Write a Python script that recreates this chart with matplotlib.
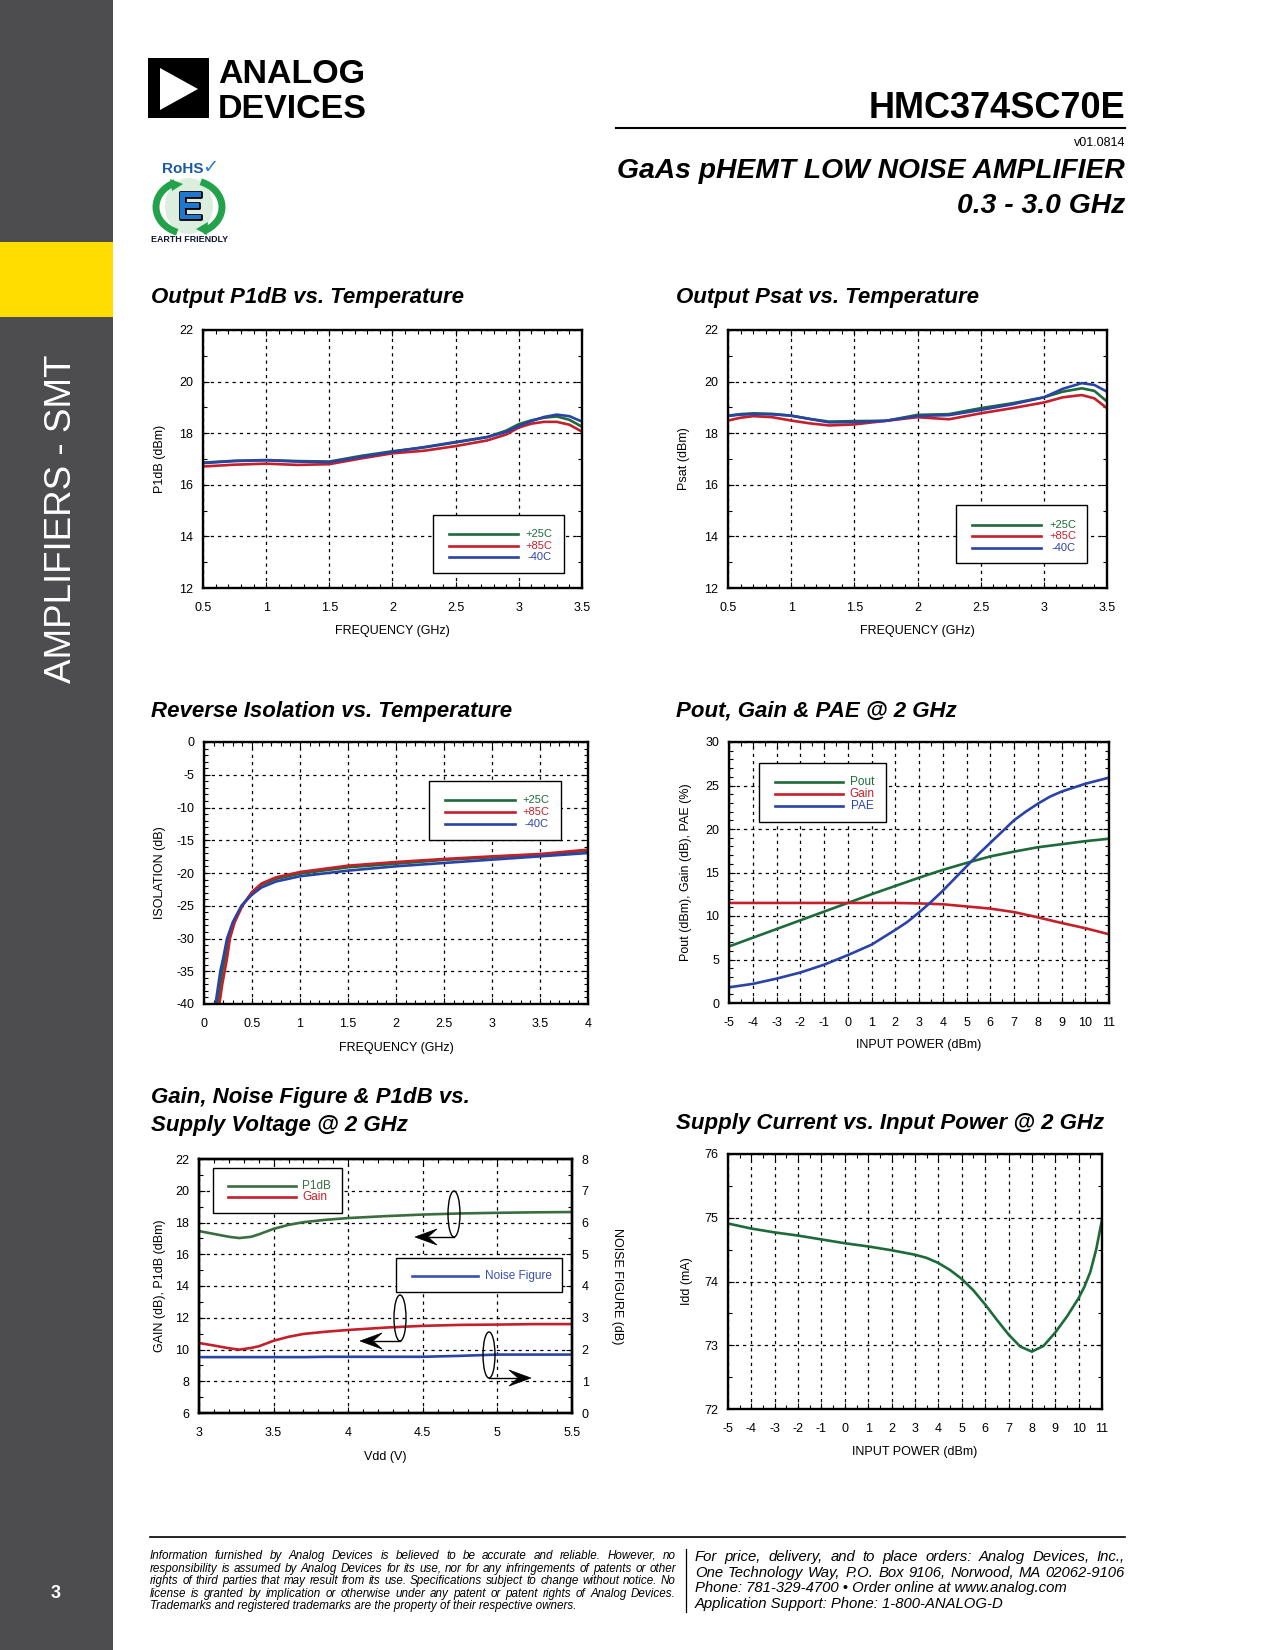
import matplotlib
matplotlib.use('Agg')
import matplotlib.pyplot as plt
import matplotlib.patheffects as pe
from matplotlib.transforms import Affine2D
from matplotlib.patches import Rectangle, Polygon, Ellipse, Arc
from matplotlib.lines import Line2D
from matplotlib.ticker import MultipleLocator, FuncFormatter

W, H, DPI = 1275, 1650, 100
plt.rcParams['font.family'] = ['Liberation Sans', 'DejaVu Sans']
plt.rcParams['axes.unicode_minus'] = False

GREEN = '#1d6b3a'
RED = '#c4202b'
BLUE = '#2a43a6'

# ---------------- data ----------------
temp_labels = ['+25C', '+85C', '-40C']

p1db_freq = [0.5, 0.75, 1.0, 1.25, 1.5, 1.75, 2.0, 2.25, 2.5, 2.75, 2.9, 3.0, 3.1, 3.2, 3.3, 3.4, 3.5]
p1db_25 = [16.86, 16.93, 16.96, 16.92, 16.90, 17.12, 17.30, 17.45, 17.64, 17.85, 18.10, 18.35, 18.50, 18.60, 18.65, 18.52, 18.25]
p1db_85 = [16.71, 16.78, 16.82, 16.77, 16.80, 17.02, 17.22, 17.32, 17.50, 17.72, 17.95, 18.22, 18.37, 18.44, 18.44, 18.33, 18.06]
p1db_m40 = [16.84, 16.92, 16.95, 16.90, 16.88, 17.08, 17.28, 17.46, 17.66, 17.85, 18.05, 18.28, 18.47, 18.63, 18.72, 18.66, 18.45]

psat_freq = [0.5, 0.6, 0.7, 0.85, 1.0, 1.15, 1.3, 1.5, 1.75, 2.0, 2.25, 2.5, 2.75, 3.0, 3.15, 3.3, 3.4, 3.5]
psat_25 = [18.68, 18.74, 18.77, 18.75, 18.68, 18.55, 18.45, 18.47, 18.48, 18.71, 18.74, 18.97, 19.16, 19.39, 19.61, 19.74, 19.64, 19.23]
psat_85 = [18.49, 18.60, 18.66, 18.62, 18.49, 18.38, 18.30, 18.34, 18.48, 18.62, 18.54, 18.77, 18.97, 19.19, 19.39, 19.48, 19.35, 18.97]
psat_m40 = [18.67, 18.72, 18.74, 18.73, 18.68, 18.55, 18.42, 18.43, 18.48, 18.67, 18.70, 18.90, 19.12, 19.39, 19.72, 19.94, 19.87, 19.61]

iso_f_25 = [0.14, 0.17, 0.19, 0.22, 0.255, 0.31, 0.395, 0.5, 0.6, 0.75, 1.0, 1.5, 2.0, 2.5, 3.0, 3.5, 4.0]
iso_25 = [-40, -37, -35, -33, -30, -27.5, -25, -23.0, -21.8, -20.9, -20.1, -19.13, -18.58, -18.0, -17.6, -17.2, -16.6]
iso_f_85 = [0.16, 0.19, 0.215, 0.24, 0.27, 0.32, 0.40, 0.5, 0.6, 0.75, 1.0, 1.5, 2.0, 2.5, 3.0, 3.5, 4.0]
iso_85 = [-40, -37, -35, -33, -30, -27.5, -25, -22.9, -21.6, -20.66, -19.85, -18.88, -18.32, -17.86, -17.46, -17.1, -16.44]
iso_f_m40 = [0.12, 0.15, 0.17, 0.20, 0.24, 0.30, 0.39, 0.5, 0.6, 0.75, 1.0, 1.5, 2.0, 2.5, 3.0, 3.5, 4.0]
iso_m40 = [-40, -37, -35, -33, -30, -27.5, -25, -23.3, -22.2, -21.3, -20.5, -19.64, -18.98, -18.47, -17.96, -17.46, -16.95]

pin = [-5, -4, -3, -2, -1, 0, 1, 2, 3, 4, 5, 6, 7, 8, 9, 10, 11]
pout = [6.5, 7.5, 8.5, 9.5, 10.5, 11.5, 12.5, 13.45, 14.4, 15.3, 16.1, 16.85, 17.4, 17.9, 18.25, 18.6, 18.88]
gain = [11.5, 11.5, 11.5, 11.5, 11.5, 11.5, 11.5, 11.5, 11.45, 11.35, 11.1, 10.85, 10.45, 9.85, 9.2, 8.6, 7.9]
pin_pae = [-5, -4, -3, -2, -1, 0, 1, 2, 2.5, 3, 3.5, 4, 4.5, 5, 5.5, 6, 6.5, 7, 7.5, 8, 8.5, 9, 10, 11]
pae = [1.8, 2.2, 2.8, 3.5, 4.4, 5.5, 6.7, 8.4, 9.3, 10.4, 11.6, 12.9, 14.3, 15.7, 17.1, 18.4, 19.7, 21.0, 22.0, 22.9, 23.7, 24.3, 25.2, 25.9]

vdd = [3.0, 3.1, 3.2, 3.27, 3.35, 3.4, 3.5, 3.6, 3.7, 3.85, 4.0, 4.25, 4.5, 4.75, 5.0, 5.25, 5.5]
p1db_v = [17.46, 17.28, 17.1, 17.02, 17.1, 17.25, 17.6, 17.85, 18.02, 18.17, 18.28, 18.4, 18.5, 18.57, 18.61, 18.64, 18.66]
gain_v = [10.41, 10.25, 10.08, 9.99, 10.1, 10.2, 10.55, 10.8, 10.98, 11.12, 11.23, 11.38, 11.49, 11.55, 11.57, 11.6, 11.6]
nf_v = [1.76, 1.76, 1.76, 1.76, 1.76, 1.76, 1.76, 1.76, 1.76, 1.77, 1.77, 1.77, 1.77, 1.8, 1.84, 1.84, 1.84]

pin_i = [-5, -4, -3, -2, -1, 0, 1, 2, 3, 3.5, 4, 4.5, 5, 5.5, 6, 6.5, 7, 7.5, 8, 8.5, 9, 9.5, 10, 10.25, 10.5, 10.75, 11]
idd = [74.91, 74.83, 74.77, 74.72, 74.66, 74.60, 74.55, 74.49, 74.42, 74.37, 74.29, 74.18, 74.04, 73.86, 73.64, 73.40, 73.17, 72.98, 72.90, 72.99,
       73.20, 73.45, 73.74, 73.92, 74.15, 74.50, 74.97]

# ---------------- page ----------------
fig = plt.figure(figsize=(W / DPI, H / DPI), dpi=DPI)
P = Affine2D().scale(1.0 / W, -1.0 / H).translate(0, 1) + fig.transFigure


def txt(x, y, s, **kw):
    return fig.text(x, y, s, transform=P, **kw)


def line(xs, ys, **kw):
    l = Line2D(xs, ys, transform=P, **kw)
    fig.add_artist(l)
    return l


def rect(x, y, w, h, **kw):
    r = Rectangle((x, y), w, h, transform=P, **kw)
    fig.add_artist(r)
    return r


def poly(pts, **kw):
    p = Polygon(pts, closed=True, transform=P, **kw)
    fig.add_artist(p)
    return p


RX = 1125  # right margin of header / footer

# sidebar
rect(0, 0, 113, H, fc='#4d4d4f', ec='none', zorder=0)
rect(0, 242, 113, 75, fc='#ffdd00', ec='none', zorder=0.5)
txt(62, 519, 'AMPLIFIERS - SMT', rotation=90, color='white', fontsize=26.5,
    ha='center', va='center')
txt(56, 1593, '3', color='white', fontsize=13, fontweight='bold', ha='center', va='center')

# ADI logo
rect(148, 58, 61, 60, fc='black', ec='none')
poly([(160, 68), (160, 110), (198, 89)], fc='white', ec='none')
txt(218, 83, 'ANALOG', fontsize=24.5, fontweight='bold', va='baseline', ha='left')
txt(218, 118, 'DEVICES', fontsize=24.5, fontweight='bold', va='baseline', ha='left')

# header text
txt(RX, 118, 'HMC374SC70E', fontsize=26, fontweight='bold', ha='right', va='baseline')
line([616, RX], [128, 128], color='black', lw=1.5)
txt(RX, 146, 'v01.0814', fontsize=9, ha='right', va='baseline')
txt(RX, 178, 'GaAs pHEMT LOW NOISE AMPLIFIER', fontsize=20.3, fontweight='bold',
    fontstyle='italic', ha='right', va='baseline')
txt(RX, 213, '0.3 - 3.0 GHz', fontsize=20.3, fontweight='bold',
    fontstyle='italic', ha='right', va='baseline')

# RoHS / earth friendly logo
e = Ellipse((189, 206), 48, 56, transform=P, fc='#dcefdf', ec='none')
fig.add_artist(e)
for t1, t2 in [(115, 240), (295, 420)]:
    a = Arc((189, 207), 66, 54, theta1=t1, theta2=t2, transform=P, color='#22a24a', lw=5)
    fig.add_artist(a)
poly([(170, 179), (183, 184), (172, 191)], fc='#22a24a', ec='none')
poly([(208, 222), (196, 229), (207, 235)], fc='#22a24a', ec='none')
txt(190, 209, 'E', fontsize=28, fontweight='bold', color='#1f78cf', ha='center', va='center',
    path_effects=[pe.withStroke(linewidth=2, foreground='black')])
txt(162, 173, 'RoHS', fontsize=11, fontweight='bold', color='#1f5aa0', ha='left', va='baseline')
txt(202, 173, '\u2713', fontsize=14, fontweight='bold', color='#2a80d0', ha='left', va='baseline',
    family=['DejaVu Sans'])
txt(190, 240, 'EARTH FRIENDLY', fontsize=6.4, fontweight='bold', color='#101830',
    ha='center', va='center')

fmt = FuncFormatter(lambda v, p: f'{v:g}')


def make_ax(l, t, r, b, xlim, ylim, xmaj, xmin, ymaj, ymin):
    ax = fig.add_axes([l / W, 1 - b / H, (r - l) / W, (b - t) / H])
    ax.set_xlim(*xlim)
    ax.set_ylim(*ylim)
    ax.xaxis.set_major_locator(MultipleLocator(xmaj))
    ax.yaxis.set_major_locator(MultipleLocator(ymaj))
    if xmin:
        ax.xaxis.set_minor_locator(MultipleLocator(xmin))
    if ymin:
        ax.yaxis.set_minor_locator(MultipleLocator(ymin))
    ax.xaxis.set_major_formatter(fmt)
    ax.yaxis.set_major_formatter(fmt)
    for s in ax.spines.values():
        s.set_linewidth(1.7)
    ax.tick_params(which='both', direction='in', top=True, right=True, labelsize=9,
                   colors='black', width=0.8)
    ax.tick_params(which='major', length=4)
    ax.tick_params(which='minor', length=3)
    ax.tick_params(axis='x', pad=10)
    ax.tick_params(axis='y', pad=7)
    ax.grid(True, which='major', color='black', linestyle=(0, (2.6, 3.2)), linewidth=0.9)
    return ax


def labels(ax, l, t, r, b, xlabel, xly, ylabel, ylx):
    ax.set_xlabel(xlabel, fontsize=9, va='center')
    ax.xaxis.set_label_coords(0.5, -(xly - b) / (b - t))
    ax.set_ylabel(ylabel, fontsize=9, va='center')
    ax.yaxis.set_label_coords((ylx - l) / (r - l), 0.5)


def title(x, y, s):
    txt(x, y, s, fontsize=16, fontweight='bold', fontstyle='italic', ha='left', va='baseline')


def legend_box(x0, y0, x1, y1, rows, lx0, lx1, tx, ha, fs=8):
    rect(x0, y0, x1 - x0, y1 - y0, fc='white', ec='black', lw=1.0, zorder=5)
    for lab, col, yy in rows:
        line([lx0, lx1], [yy, yy], color=col, lw=1.9, zorder=6)
        txt(tx, yy, lab, color=col, fontsize=fs, ha=ha, va='center', zorder=6)


LW = 1.9

# ---- Chart 1: Output P1dB vs Temperature ----
c = (203, 330, 582, 588)
ax1 = make_ax(*c, (0.5, 3.5), (12, 22), 0.5, 0.1, 2, 1)
ax1.plot(p1db_freq, p1db_25, color=GREEN, lw=LW)
ax1.plot(p1db_freq, p1db_85, color=RED, lw=LW)
ax1.plot(p1db_freq, p1db_m40, color=BLUE, lw=LW)
labels(ax1, *c, 'FREQUENCY (GHz)', 631, 'P1dB (dBm)', 160)
title(151, 303, 'Output P1dB vs. Temperature')
legend_box(433, 515, 564, 573, list(zip(temp_labels, [GREEN, RED, BLUE], [534, 546, 557])),
           449, 518, 552, 'right')

# ---- Chart 2: Output Psat vs Temperature ----
c = (728, 330, 1107, 588)
ax2 = make_ax(*c, (0.5, 3.5), (12, 22), 0.5, 0.1, 2, 1)
ax2.plot(psat_freq, psat_25, color=GREEN, lw=LW)
ax2.plot(psat_freq, psat_85, color=RED, lw=LW)
ax2.plot(psat_freq, psat_m40, color=BLUE, lw=LW)
labels(ax2, *c, 'FREQUENCY (GHz)', 631, 'Psat (dBm)', 684)
title(676, 303, 'Output Psat vs. Temperature')
legend_box(956, 505, 1087, 563, list(zip(temp_labels, [GREEN, RED, BLUE], [525, 536, 548])),
           972, 1041, 1076, 'right')

# ---- Chart 3: Reverse Isolation ----
c = (204, 742, 588, 1004)
ax3 = make_ax(*c, (0, 4), (-40, 0), 0.5, 0.1, 5, 1)
ax3.plot(iso_f_25, iso_25, color=GREEN, lw=LW)
ax3.plot(iso_f_85, iso_85, color=RED, lw=LW)
ax3.plot(iso_f_m40, iso_m40, color=BLUE, lw=LW)
labels(ax3, *c, 'FREQUENCY (GHz)', 1048, 'ISOLATION (dB)', 160)
title(151, 717, 'Reverse Isolation vs. Temperature')
legend_box(429, 781, 561, 840, list(zip(temp_labels, [GREEN, RED, BLUE], [800, 812, 824])),
           445, 515, 549, 'right')

# ---- Chart 4: Pout, Gain & PAE ----
c = (729, 742, 1109, 1003)
ax4 = make_ax(*c, (-5, 11), (0, 30), 1, 0.5, 5, 1)
ax4.plot(pin, pout, color=GREEN, lw=LW)
ax4.plot(pin, gain, color=RED, lw=LW)
ax4.plot(pin_pae, pae, color=BLUE, lw=LW)
labels(ax4, *c, 'INPUT POWER (dBm)', 1045, 'Pout (dBm), Gain (dB), PAE (%)', 686)
title(676, 717, 'Pout, Gain & PAE @ 2 GHz')
legend_box(759, 763, 886, 822, list(zip(['Pout', 'Gain', 'PAE'], [GREEN, RED, BLUE], [782, 794, 806])),
           775, 843, 874, 'right', fs=8.5)

# ---- Chart 5: Gain, NF & P1dB vs Vdd ----
c = (199, 1159, 572, 1413)
ax5 = make_ax(*c, (3, 5.5), (6, 22), 0.5, 0.1, 2, 1)
ax5.tick_params(right=False, which='both')
ax5.plot(vdd, p1db_v, color='#3a6e3e', lw=LW)
ax5.plot(vdd, gain_v, color=RED, lw=LW)
labels(ax5, *c, 'Vdd (V)', 1457, 'GAIN (dB), P1dB (dBm)', 160)
ax5r = ax5.twinx()
ax5r.set_ylim(0, 8)
ax5r.yaxis.set_major_locator(MultipleLocator(1))
ax5r.yaxis.set_minor_locator(MultipleLocator(0.5))
ax5r.yaxis.set_major_formatter(fmt)
ax5r.tick_params(which='both', direction='in', labelsize=9, pad=7, width=0.8)
ax5r.tick_params(which='major', length=4)
ax5r.tick_params(which='minor', length=3)
for s in ax5r.spines.values():
    s.set_linewidth(1.7)
ax5r.plot(vdd, nf_v, color=BLUE, lw=LW)
ax5r.set_ylabel('NOISE FIGURE (dB)', fontsize=9, rotation=-90, va='center')
ax5r.yaxis.set_label_coords((617 - 199) / (572 - 199), 0.5)
title(151, 1103, 'Gain, Noise Figure & P1dB vs.')
title(151, 1131, 'Supply Voltage @ 2 GHz')
legend_box(213, 1168, 342, 1213, [('P1dB', '#3a6e3e', 1186), ('Gain', RED, 1197)],
           228, 296, 302, 'left', fs=8.5)
legend_box(396, 1258, 562, 1292, [('Noise Figure', '#3a50b0', 1276)],
           412, 478, 485, 'left', fs=8.5)


def ell_arrow(cx, cy, tipx, direction):
    el = Ellipse((cx, cy), 12, 46, transform=P, fill=False, ec='black', lw=1.0, zorder=7)
    fig.add_artist(el)
    yb = cy + 23
    d = 1 if direction == 'left' else -1
    line([cx, tipx + d * 14], [yb, yb], color='black', lw=1.0, zorder=7)
    poly([(tipx, yb), (tipx + d * 22, yb - 8), (tipx + d * 13, yb), (tipx + d * 22, yb + 8)],
         fc='black', ec='black', lw=0.5, zorder=7)


ell_arrow(454, 1214, 415, 'left')
ell_arrow(400, 1318, 360, 'left')
ell_arrow(489, 1355, 531, 'right')

# ---- Chart 6: Supply current ----
c = (728, 1154, 1102, 1409)
ax6 = make_ax(*c, (-5, 11), (72, 76), 1, 0.5, 1, 0.5)
ax6.plot(pin_i, idd, color=GREEN, lw=LW)
labels(ax6, *c, 'INPUT POWER (dBm)', 1452, 'Idd (mA)', 687)
title(676, 1129, 'Supply Current vs. Input Power @ 2 GHz')

# ---------------- footer ----------------
line([150, RX], [1537, 1537], color='black', lw=1.2)
line([686, 686], [1549, 1612], color='black', lw=0.9)

renderer = fig.canvas.get_renderer()


def width_of(s, **kw):
    t = txt(0, 0, s, **kw)
    w = t.get_window_extent(renderer).width
    t.remove()
    return w


def justify(s, x0, x1, y, **kw):
    words = s.split(' ')
    objs = [txt(0, y, w, va='center', ha='left', **kw) for w in words]
    ws = [o.get_window_extent(renderer).width for o in objs]
    gap = (x1 - x0 - sum(ws)) / max(len(words) - 1, 1)
    x = x0
    for o, w in zip(objs, ws):
        o.set_x(x)
        x += w + gap


left_lines = [
    'Information furnished by Analog Devices is believed to be accurate and reliable. However, no',
    'responsibility is assumed by Analog Devices for its use, nor for any infringements of patents or other',
    'rights of third parties that may result from its use. Specifications subject to change without notice. No',
    'license is granted by implication or otherwise under any patent or patent rights of Analog Devices.',
    'Trademarks and registered trademarks are the property of their respective owners.',
]
right_lines = [
    'For price, delivery, and to place orders: Analog Devices, Inc.,',
    'One Technology Way, P.O. Box 9106, Norwood, MA 02062-9106',
    'Phone: 781-329-4700 \u2022 Order online at www.analog.com',
    'Application Support: Phone: 1-800-ANALOG-D',
]

LX0, LX1 = 150, 676
fsl = 8 * (LX1 - LX0 - 6) / width_of(left_lines[2], fontsize=8, fontstyle='italic')
for i, s in enumerate(left_lines):
    y = 1556 + 12.6 * i
    if i < 4:
        justify(s, LX0, LX1, y, fontsize=fsl, fontstyle='italic')
    else:
        txt(LX0, y, s, fontsize=fsl, fontstyle='italic', ha='left', va='center')

RX0 = 695
fsr = 10 * (RX - RX0 - 2) / width_of(right_lines[1], fontsize=10, fontstyle='italic')
for i, s in enumerate(right_lines):
    y = 1557 + 15.7 * i
    if i < 2:
        justify(s, RX0, RX, y, fontsize=fsr, fontstyle='italic')
    else:
        txt(RX0, y, s, fontsize=fsr, fontstyle='italic', ha='left', va='center')

fig.savefig('out.png', dpi=DPI, facecolor='white')
